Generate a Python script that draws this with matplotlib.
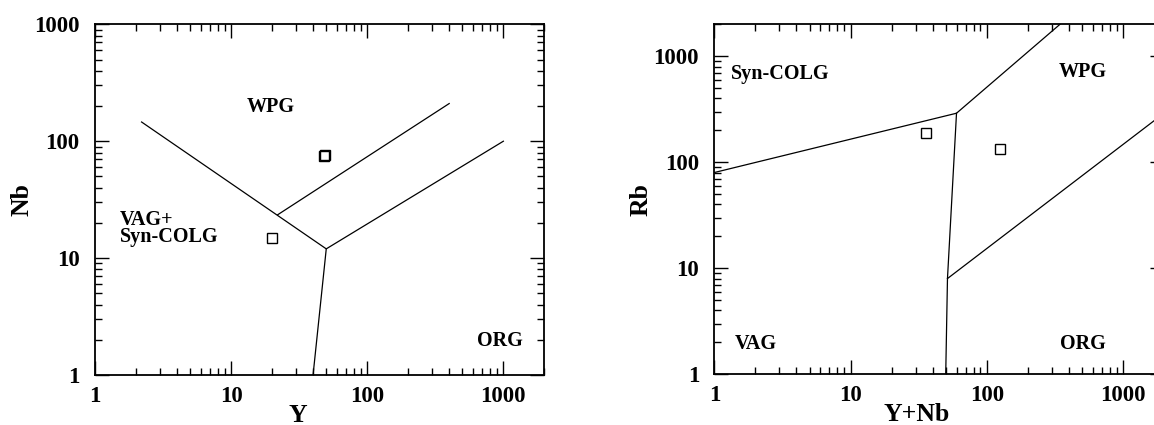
import numpy as np
import matplotlib.pyplot as plt
from matplotlib.ticker import LogLocator, NullFormatter, FixedLocator, FixedFormatter

plt.rcParams['font.family'] = ['Liberation Serif', 'DejaVu Serif']
plt.rcParams['font.weight'] = 'bold'

# Nb-Y diagram: boundaries and samples
nby_main_x = [2.2, 50, 1000]
nby_main_y = [146, 12, 100]
nby_stem_x = [50, 40]
nby_stem_y = [12, 1]
nby_org_x = [22, 400]
nby_org_y = [23.5, 210]
nby_pts_x = [48, 49, 20]
nby_pts_y = [75, 76, 15]

# Rb-(Y+Nb) diagram
rb_upper_x = [1, 60, 345]
rb_upper_y = [80, 290, 2000]
rb_stem_x = [60, 51.5, 50]
rb_stem_y = [290, 8, 1]
rb_org_x = [51.5, 2000]
rb_org_y = [8, 290]
rb_pts_x = [36, 125]
rb_pts_y = [190, 132]

fig = plt.figure(figsize=(11.54, 4.25), dpi=100)
ax1 = fig.add_axes([0.0823, 0.1176, 0.3894, 0.8252])
ax2 = fig.add_axes([0.619, 0.1193, 0.3896, 0.8235])


def style(ax, xmax, ymax, yticks):
    ax.set_xscale('log')
    ax.set_yscale('log')
    ax.set_xlim(1, xmax)
    ax.set_ylim(1, ymax)
    ax.xaxis.set_major_locator(FixedLocator([1, 10, 100, 1000]))
    ax.xaxis.set_major_formatter(FixedFormatter(['1', '10', '100', '1000']))
    ax.yaxis.set_major_locator(FixedLocator(yticks))
    ax.yaxis.set_major_formatter(FixedFormatter([str(t) for t in yticks]))
    for a in (ax.xaxis, ax.yaxis):
        a.set_minor_locator(LogLocator(base=10, subs=np.arange(2, 10), numticks=20))
        a.set_minor_formatter(NullFormatter())
    ax.tick_params(which='both', direction='in', top=True, right=True, width=1.0)
    ax.tick_params(which='major', length=10, labelsize=16.5)
    ax.tick_params(which='minor', length=5)
    ax.tick_params(axis='y', pad=11)
    ax.tick_params(axis='x', pad=8)
    for s in ax.spines.values():
        s.set_linewidth(1.3)


style(ax1, 2000, 1000, [1, 10, 100, 1000])
style(ax2, 2000, 2000, [1, 10, 100, 1000])

lk = dict(color='black', lw=0.9)
mk = dict(marker='s', ms=7.5, mfc='none', mec='black', mew=1.0, ls='none')

ax1.plot(nby_main_x, nby_main_y, **lk)
ax1.plot(nby_stem_x, nby_stem_y, **lk)
ax1.plot(nby_org_x, nby_org_y, **lk)
ax1.plot(nby_pts_x, nby_pts_y, **mk)

ax2.plot(rb_upper_x, rb_upper_y, **lk)
ax2.plot(rb_stem_x, rb_stem_y, **lk)
ax2.plot(rb_org_x, rb_org_y, **lk)
ax2.plot(rb_pts_x, rb_pts_y, **mk)

tk = dict(fontsize=14.5, fontweight='bold')
ax1.text(19.5, 196, 'WPG', ha='center', va='center', **tk)
ax1.text(1.52, 25.7, 'VAG+\nSyn-COLG', ha='left', va='top', linespacing=0.8, **tk)
ax1.text(951, 1.96, 'ORG', ha='center', va='center', **tk)

ax2.text(1.33, 683, 'Syn-COLG', ha='left', va='center', **tk)
ax2.text(507, 703, 'WPG', ha='center', va='center', **tk)
ax2.text(1.42, 1.93, 'VAG', ha='left', va='center', **tk)
ax2.text(507, 1.93, 'ORG', ha='center', va='center', **tk)

ax1.set_xlabel('Y', fontsize=18.5, fontweight='bold')
ax1.set_ylabel('Nb', fontsize=18.5, fontweight='bold')
ax2.set_xlabel('Y+Nb', fontsize=18.5, fontweight='bold')
ax2.set_ylabel('Rb', fontsize=18.5, fontweight='bold')
for ax in (ax1, ax2):
    ax.xaxis.set_label_coords(0.451, -0.133)
    ax.yaxis.set_label_coords(-0.1625, 0.5)
    ax.xaxis.label.set(va='baseline', ha='center')
    ax.yaxis.label.set(va='center', ha='center')

fig.savefig('out.png', dpi=100)
